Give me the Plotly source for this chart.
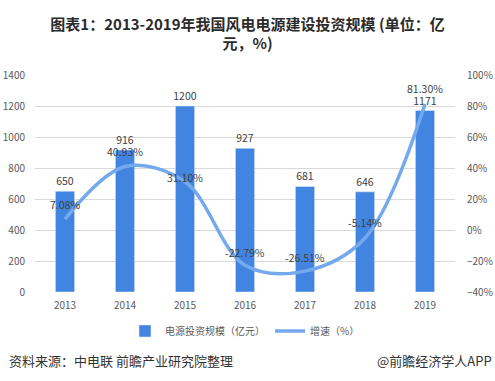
import plotly.graph_objects as go

years = ["2013", "2014", "2015", "2016", "2017", "2018", "2019"]
invest = [650, 916, 1200, 927, 681, 646, 1171]
growth = [7.08, 40.93, 31.10, -22.79, -26.51, -5.14, 81.30]

invest_labels = [str(v) for v in invest]
growth_labels = [f"{v:.2f}%" for v in growth]
# vertical offsets (px) of the growth labels above their points
growth_label_shift = [15, 15, 4, 13, 14, 15, 15]

FONT = "Noto Sans CJK SC"
W, H = 495, 381
L, R, T, B = 35, 40, 75, 89
PW, PH = W - L - R, H - T - B

fig = go.Figure()
fig.add_trace(go.Bar(
    x=years, y=invest, name="电源投资规模（亿元）",
    marker=dict(color="#4285e0"), width=0.32,
    text=invest_labels, textposition="outside", constraintext="none",
    textfont=dict(size=10.5, color="#404040", family=FONT),
    cliponaxis=False,
))
fig.add_trace(go.Scatter(
    x=years, y=growth, name="增速（%）", yaxis="y2",
    mode="lines", line=dict(color="#74a9ee", width=3.5, shape="spline", smoothing=1.0),
    cliponaxis=False,
))

for i, (g, lab, sh) in enumerate(zip(growth, growth_labels, growth_label_shift)):
    fig.add_annotation(x=i, y=g, xref="x", yref="y2", text=lab, showarrow=False,
                       yshift=sh, xanchor="center", yanchor="middle",
                       font=dict(size=10.5, color="#404040", family=FONT))

fig.update_layout(
    width=W, height=H,
    margin=dict(l=L, r=R, t=T, b=B, autoexpand=False),
    paper_bgcolor="white", plot_bgcolor="white",
    font=dict(family=FONT, color="#595959", size=10),
    title=dict(
        text="<b>图表1：2013-2019年我国风电电源建设投资规模 (单位：亿<br>元，%)</b>",
        x=0.5, xanchor="center", xref="container", yref="container",
        y=1 - 29.5 / H, yanchor="middle",
        font=dict(size=15, color="#2b2b2b", family=FONT),
    ),
    xaxis=dict(type="category", showgrid=False, showline=False, ticks="", automargin=False,
               ticklabelstandoff=6, tickfont=dict(size=10, color="#595959")),
    yaxis=dict(range=[0, 1400], dtick=200, showgrid=True, gridcolor="#d9d9d9", gridwidth=1,
               zeroline=False, automargin=False, ticklabelstandoff=9,
               tickfont=dict(size=10, color="#595959")),
    yaxis2=dict(range=[-40, 100], dtick=20, overlaying="y", side="right", showgrid=False,
                zeroline=False, automargin=False, ticksuffix="%", ticklabelstandoff=11,
                tickfont=dict(size=10, color="#595959")),
    legend=dict(orientation="h", x=0.5, xanchor="center", y=-(331 - (T + PH)) / PH,
                yanchor="middle", font=dict(size=10, color="#595959"), itemwidth=30),
    showlegend=True,
)

fig.add_annotation(text="资料来源：中电联 前瞻产业研究院整理", xref="paper", yref="paper",
                   x=-(L - 7) / PW, y=-(360 - (T + PH)) / PH, xanchor="left", yanchor="middle",
                   showarrow=False, font=dict(size=13, color="#333333", family=FONT))
fig.add_annotation(text="@前瞻经济学人APP", xref="paper", yref="paper",
                   x=(494 - L) / PW, y=-(360 - (T + PH)) / PH, xanchor="right", yanchor="middle",
                   showarrow=False, font=dict(size=13, color="#333333", family=FONT))

fig.write_html("out.html", config={"displayModeBar": False},
               post_script="document.body.style.margin='0px';")
